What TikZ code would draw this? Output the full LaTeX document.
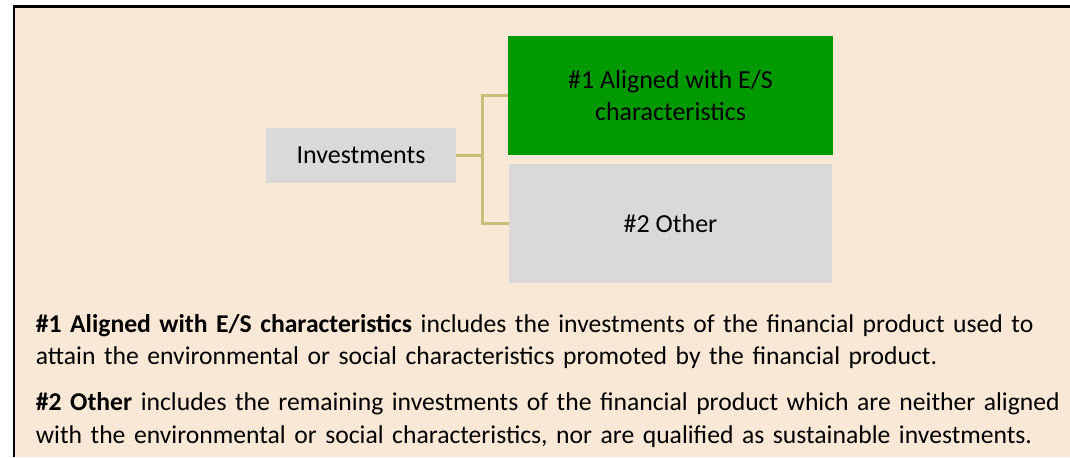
\documentclass[tikz,border=0pt]{standalone}
\usepackage{fontspec}
\setmainfont{Carlito}
\usetikzlibrary{positioning}

\definecolor{sandbg}{HTML}{FAE8D6}
\definecolor{esgreen}{HTML}{009900}
\definecolor{boxgrey}{HTML}{D9D9D9}
\definecolor{linkolive}{HTML}{C9BD77}

\begin{document}
\begin{tikzpicture}[%
x=0.5pt, y=-0.5pt,
on grid,
box/.style={fill=boxgrey, inner sep=0pt, align=center, font=\fontsize{13}{15.9}\selectfont},
greenbox/.style={box, fill=esgreen},
link/.style={draw=linkolive, line width=1.15pt},
desc/.style={inner sep=0pt, text width=516.5pt, align=left, font=\fontsize{12.82}{16.25}\selectfont}
]

\useasboundingbox (0,0) rectangle (1070,457);
\fill[sandbg] (14,6.5) rectangle (1070,457);
\draw[line width=1.25pt] (14,457) -- (14,6.5) -- (1070,6.5);

\node[box, minimum width=95pt, minimum height=27.5pt] (inv) at (361,155.5) {Investments};
\node[greenbox, minimum width=162.5pt, minimum height=59.5pt] (al) [above right=30pt and 154.75pt of inv] {\#1 Aligned with E/S\\characteristics};
\node[box, minimum width=161.5pt, minimum height=59.5pt] (ot) [below=64pt of al] {\#2 Other};

\path[link] (inv.east) -- ++(26,0) |- (al.west);
\path[link] (inv.east) -- ++(26,0) |- (ot.west);

\node[desc, anchor=base west] (desc1) at (35.5,332.3) {\makebox[\linewidth][s]{\textbf{\#1 Aligned with E/S characteristics} includes the investments of the financial product used to}\\attain the environmental or social characteristics promoted by the financial product.};
\node[desc, anchor=base west] (desc2) at (35.5,410.7) {\makebox[\linewidth][s]{\textbf{\#2 Other} includes the remaining investments of the financial product which are neither aligned}\\with the environmental or social characteristics, nor are qualified as sustainable investments.};

\end{tikzpicture}
\end{document}
